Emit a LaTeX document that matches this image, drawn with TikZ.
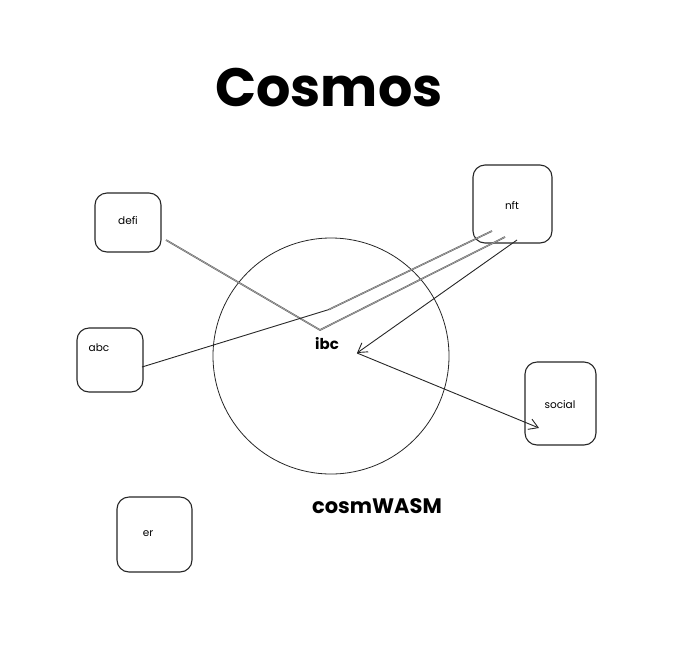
\documentclass[tikz,border=0pt]{standalone}
\usepackage{fontspec}
\setmainfont{Poppins}
\usetikzlibrary{arrows.meta}
\begin{document}
\begin{tikzpicture}[x=1pt,y=-1pt,
  box/.style={draw=black!85,line width=1.1pt,rounded corners=12pt,inner sep=0pt},
  lbl/.style={font=\fontsize{10.5}{12}\selectfont,inner sep=0pt},
  sketch/.style={draw=black!85,line width=0.9pt},
  dbl/.style={draw=black!65,line width=0.45pt,double=black!35,double distance=0.7pt},
  barb/.style={-{Straight Barb[length=9pt,width=11pt,line width=0.9pt]}}]
\useasboundingbox (0,0) rectangle (680,649);
% title
\node[font=\fontsize{54}{60}\selectfont\bfseries,inner sep=0pt] (title) at (329,88) {Cosmos};
% circle
\node[draw=black!85,line width=0.8pt,circle,minimum size=236pt,inner sep=0pt] (circ) at (331,356) {};
\node[font=\fontsize{15}{18}\selectfont\bfseries,inner sep=0pt] (ibc) at (327,344) {ibc};
\node[font=\fontsize{21}{24}\selectfont\bfseries,inner sep=0pt] (wasm) at (377,506) {cosmWASM};
% boxes
\node[box,minimum width=66pt,minimum height=59pt] (defi) at (128,222.5) {};
\node[lbl] (defit) at (128,221) {defi};
\node[box,minimum width=66pt,minimum height=64pt] (abc) at (110,360) {};
\node[lbl] (abct) at (99,348) {abc};
\node[box,minimum width=79pt,minimum height=78pt] (nft) at (512.5,204) {};
\node[lbl] (nftt) at (512,205) {nft};
\node[box,minimum width=71pt,minimum height=83pt] (social) at (560.5,403.5) {};
\node[lbl] (socialt) at (560,405) {social};
\node[box,minimum width=75pt,minimum height=75pt] (er) at (154.5,534.5) {};
\node[lbl] (ert) at (148,534) {er};
% connector points
\coordinate (defiOut) at (166,240);
\coordinate (ibcA) at (320,330);
\coordinate (nftA) at (505,237);
\coordinate (abcOut) at (142,367);
\coordinate (brk) at (329,309.5);
\coordinate (nftB) at (492,231);
\coordinate (nftC) at (517,240);
\coordinate (ibcB) at (357,353);
\coordinate (socIn) at (539,428);
% connectors
\draw[dbl] (defiOut) -- (ibcA) -- (nftA);
\draw[sketch] (abcOut) -- (brk);
\draw[dbl] (brk) -- (nftB);
\draw[sketch,barb] (nftC) -- (ibcB);
\draw[sketch,barb] (ibcB) -- (socIn);
\end{tikzpicture}
\end{document}
